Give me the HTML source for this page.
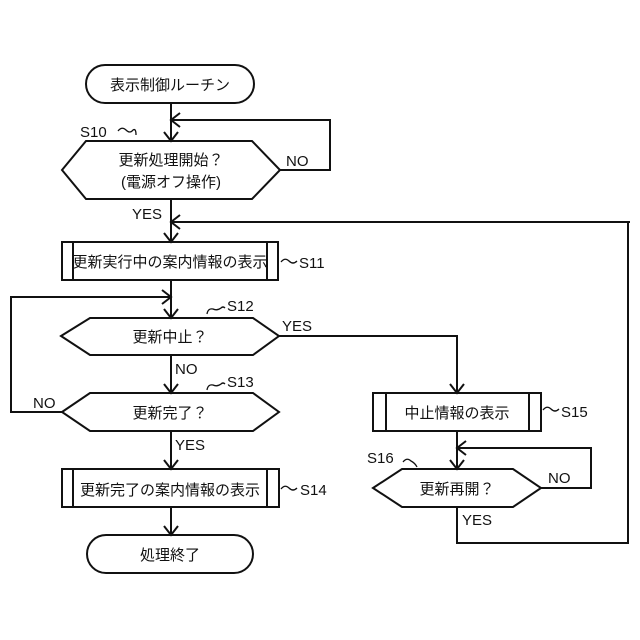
<!DOCTYPE html>
<html><head><meta charset="utf-8"><style>
html,body{margin:0;padding:0;background:#fff;}
svg{display:block;}
text{font-family:"Liberation Sans","Noto Sans CJK JP",sans-serif;font-size:15px;fill:#111;}
.c{text-anchor:middle;}
</style></head><body>
<svg width="640" height="640" viewBox="0 0 640 640" xmlns="http://www.w3.org/2000/svg">
<g fill="none" stroke="#111" stroke-width="2">
<!-- start -->
<rect x="86" y="65" width="168" height="38" rx="19"/>
<line x1="171" y1="103" x2="171" y2="141"/>
<polyline points="164,132 171,141 178,132"/>
<!-- S10 -->
<polygon points="62,170 86,141 252,141 280,170 252,199 86,199"/>
<polyline points="280,170 330,170 330,120 171,120"/>
<polyline points="180,113 171,120 180,127"/>
<line x1="171" y1="199" x2="171" y2="242"/>
<polyline points="164,233 171,242 178,233"/>
<polyline points="630,222 171,222"/>
<polyline points="180,215 171,222 180,229"/>
<!-- S11 -->
<rect x="62" y="242" width="216" height="38"/>
<line x1="73" y1="242" x2="73" y2="280"/><line x1="267" y1="242" x2="267" y2="280"/>
<line x1="171" y1="280" x2="171" y2="318"/>
<polyline points="164,309 171,318 178,309"/>
<polyline points="62,412 11,412 11,297 171,297"/>
<polyline points="162,290 171,297 162,304"/>
<!-- S12 -->
<polygon points="61,336 90,318 253,318 279,336 253,355 90,355"/>
<polyline points="279,336 457,336 457,393"/>
<polyline points="450,384 457,393 464,384"/>
<line x1="171" y1="355" x2="171" y2="393"/>
<polyline points="164,384 171,393 178,384"/>
<!-- S13 -->
<polygon points="62,412 90,393 253,393 279,412 253,431 90,431"/>
<line x1="171" y1="431" x2="171" y2="469"/>
<polyline points="164,460 171,469 178,460"/>
<!-- S14 -->
<rect x="62" y="469" width="217" height="38"/>
<line x1="73" y1="469" x2="73" y2="507"/><line x1="267" y1="469" x2="267" y2="507"/>
<line x1="171" y1="507" x2="171" y2="535"/>
<polyline points="164,526 171,535 178,526"/>
<rect x="87" y="535" width="166" height="38" rx="19"/>
<!-- S15 -->
<rect x="373" y="393" width="168" height="38"/>
<line x1="386" y1="393" x2="386" y2="431"/><line x1="529" y1="393" x2="529" y2="431"/>
<line x1="457" y1="431" x2="457" y2="469"/>
<polyline points="450,460 457,469 464,460"/>
<!-- S16 -->
<polygon points="373,488 402,469 513,469 541,488 513,507 402,507"/>
<polyline points="541,488 591,488 591,448 457,448"/>
<polyline points="466,441 457,448 466,455"/>
<polyline points="457,507 457,543 628,543 628,222"/>
<!-- tildes -->
<path d="M118,131 q4,-5 8,-1 q4,4 7,0 q3,-2 3,5" stroke-width="1.3"/>
<path d="M207,314 q1,-6 6,-5 q4,2 8,-1 q2,-2 4,0" stroke-width="1.3"/>
<path d="M207,390 q1,-6 6,-5 q4,2 8,-1 q2,-2 4,0" stroke-width="1.3"/>
<path d="M281,262 q4,-5 8,-1 q4,4 8,0" stroke-width="1.3"/>
<path d="M281,489 q4,-5 8,-1 q4,4 8,0" stroke-width="1.3"/>
<path d="M543,410 q4,-5 8,-1 q4,4 8,0" stroke-width="1.3"/>
<path d="M403,462 q4,-5 8,-1 q4,2 6,6" stroke-width="1.3"/>
</g>
<text class="c" x="170" y="90">表示制御ルーチン</text>
<text class="c" x="171" y="165">更新処理開始？</text>
<text class="c" x="171" y="187">(電源オフ操作)</text>
<text class="c" x="170" y="267">更新実行中の案内情報の表示</text>
<text class="c" x="170" y="342">更新中止？</text>
<text class="c" x="170" y="418">更新完了？</text>
<text class="c" x="170" y="495">更新完了の案内情報の表示</text>
<text class="c" x="170" y="560">処理終了</text>
<text class="c" x="457" y="418">中止情報の表示</text>
<text class="c" x="457" y="494">更新再開？</text>
<text x="80" y="137">S10</text>
<text x="286" y="166">NO</text>
<text x="132" y="219">YES</text>
<text x="299" y="268">S11</text>
<text x="227" y="311">S12</text>
<text x="282" y="331">YES</text>
<text x="175" y="374">NO</text>
<text x="227" y="387">S13</text>
<text x="33" y="408">NO</text>
<text x="175" y="450">YES</text>
<text x="300" y="495">S14</text>
<text x="561" y="417">S15</text>
<text x="367" y="463">S16</text>
<text x="548" y="483">NO</text>
<text x="462" y="525">YES</text>
</svg>
</body></html>
